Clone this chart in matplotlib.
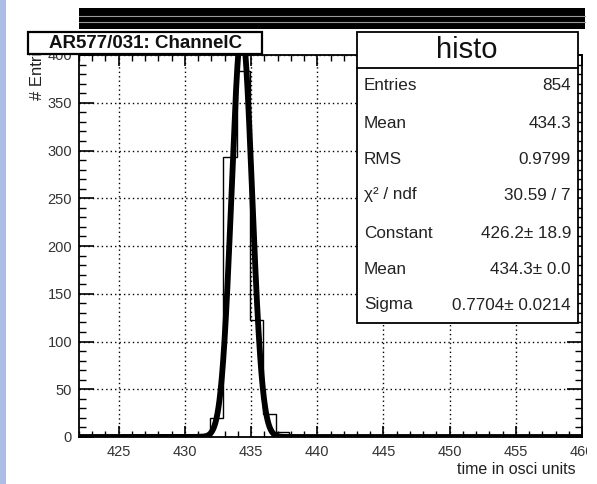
import numpy as np
import matplotlib
matplotlib.use("Agg")
import matplotlib.pyplot as plt
from matplotlib.patches import Rectangle
from matplotlib.ticker import MultipleLocator

plt.rcParams['font.family'] = ['Liberation Sans', 'DejaVu Sans']

# histogram (bin width 1)
bin_edges = [429.9, 430.9, 431.9, 432.9, 433.9, 434.9, 435.9, 436.9, 437.9, 438.9, 439.9]
bin_counts = [1, 3, 20, 293, 383, 122, 24, 5, 2, 1]

# gaussian fit parameters from the stats box
fit_constant = 426.2
fit_mean = 434.3
fit_sigma = 0.7704

stats_labels = ['Entries', 'Mean', 'RMS', 'χ² / ndf', 'Constant', 'Mean', 'Sigma']
stats_values = ['854', '434.3', '0.9799', '30.59 / 7', '426.2± 18.9', '434.3± 0.0', '0.7704± 0.0214']

W, H = 597, 484


def fx(x):
    return x / W


def fy(y):
    return 1 - y / H


fig = plt.figure(figsize=(W / 100, H / 100), dpi=100)
fig.patch.set_facecolor('white')

ax = fig.add_axes([fx(79), fy(437), fx(582) - fx(79), fy(55) - fy(437)])

# fit function over the whole axis range
xf = np.linspace(422, 460, 2000)
yf = fit_constant * np.exp(-0.5 * ((xf - fit_mean) / fit_sigma) ** 2)
ax.plot(xf, yf, color='black', lw=4.2, zorder=3, solid_capstyle='butt')
ax.stairs(bin_counts, bin_edges, color='black', lw=1.0, zorder=4)

ax.set_xlim(422, 460)
ax.set_ylim(0, 400)
ax.xaxis.set_major_locator(MultipleLocator(5))
ax.xaxis.set_minor_locator(MultipleLocator(1))
ax.yaxis.set_major_locator(MultipleLocator(50))
ax.yaxis.set_minor_locator(MultipleLocator(10))
ax.grid(True, which='major', color='black', linestyle=(0, (1, 2.2)), lw=1.0)

ax.tick_params(which='both', direction='in', top=True, right=True, colors='black',
               labelcolor='#333333', labelsize=10.5)
ax.tick_params(axis='y', which='major', length=11, width=1.2, pad=5)
ax.tick_params(axis='y', which='minor', length=5, width=1.0)
ax.tick_params(axis='x', which='major', length=8, width=1.2, pad=6)
ax.tick_params(axis='x', which='minor', length=4, width=1.0)
for s in ax.spines.values():
    s.set_linewidth(1.3)

fig.text(fx(576), fy(470), 'time in osci units', ha='right', va='center',
         fontsize=11.5, color='#222222')
fig.text(fx(38), fy(100), '# Entries', rotation=90, ha='center', va='bottom',
         fontsize=12, color='#222222')

# left slide strip and top band from the screenshot
fig.patches.append(Rectangle((0, 0), fx(6), 1, transform=fig.transFigure,
                             facecolor='#aebde6', edgecolor='none', zorder=5))
fig.patches.append(Rectangle((fx(587), 0), 1 - fx(587), 1, transform=fig.transFigure,
                             facecolor='white', edgecolor='none', zorder=5))
fig.patches.append(Rectangle((fx(79), fy(29)), fx(585) - fx(79), fy(8) - fy(29),
                             transform=fig.transFigure, facecolor='black',
                             edgecolor='none', zorder=5))
for yl in (15.5, 21.5):
    fig.lines.append(plt.Line2D([fx(79), fx(585)], [fy(yl), fy(yl)],
                                transform=fig.transFigure, color='#9a9a9a', lw=0.8, zorder=6))

# title box
fig.patches.append(Rectangle((fx(28), fy(54)), fx(262) - fx(28), fy(32) - fy(54),
                             transform=fig.transFigure, facecolor='white',
                             edgecolor='black', lw=1.6, zorder=7))
fig.text(fx(146), fy(43.5), 'AR577/031: ChannelC', ha='center', va='center',
         fontsize=13.5, fontweight='bold', color='#111111', zorder=8)

# stats box
fig.patches.append(Rectangle((fx(357), fy(323)), fx(578) - fx(357), fy(32) - fy(323),
                             transform=fig.transFigure, facecolor='white',
                             edgecolor='black', lw=1.3, zorder=7))
fig.lines.append(plt.Line2D([fx(357), fx(578)], [fy(68), fy(68)],
                            transform=fig.transFigure, color='black', lw=1.3, zorder=8))
fig.text(fx(467), fy(50), 'histo', ha='center', va='center', fontsize=21,
         color='#111111', zorder=8)
row_y = [86, 123, 159, 195, 233, 269, 305]
for lab, val, yy in zip(stats_labels, stats_values, row_y):
    fig.text(fx(364), fy(yy), lab, ha='left', va='center', fontsize=12.3,
             color='#222222', zorder=8)
    fig.text(fx(571), fy(yy), val, ha='right', va='center', fontsize=12.3,
             color='#222222', zorder=8)

fig.savefig('out.png', dpi=100)
